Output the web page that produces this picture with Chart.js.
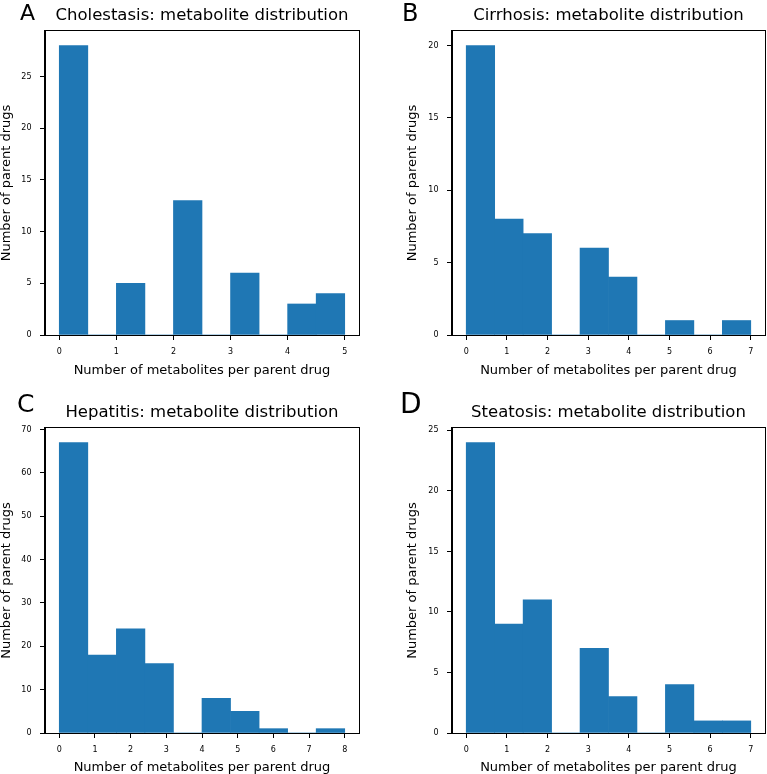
<!DOCTYPE html>
<html>
<head>
<meta charset="utf-8">
<script src="https://cdn.jsdelivr.net/npm/chart.js@4.4.0/dist/chart.umd.min.js"></script>
<style>
    body { margin: 0; background: #fff; }
    #grid { position: relative; width: 767px; height: 774px; }
    #grid canvas { position: absolute; }
</style>
</head>
<body>
<div id="grid">
    <canvas id="panelA" width="383" height="387" style="left:0;top:0"></canvas>
    <canvas id="panelB" width="384" height="387" style="left:383px;top:0"></canvas>
    <canvas id="panelC" width="383" height="387" style="left:0;top:387px"></canvas>
    <canvas id="panelD" width="384" height="387" style="left:383px;top:387px"></canvas>
</div>
<script>
// Histogram bins (edges) and counts
const cholestasisEdges = [0, 0.5, 1, 1.5, 2, 2.5, 3, 3.5, 4, 4.5, 5];
const cholestasisCounts = [28, 0, 5, 0, 13, 0, 6, 0, 3, 4];

const cirrhosisEdges = [0, 0.7, 1.4, 2.1, 2.8, 3.5, 4.2, 4.9, 5.6, 6.3, 7];
const cirrhosisCounts = [20, 8, 7, 0, 6, 4, 0, 1, 0, 1];

const hepatitisEdges = [0, 0.8, 1.6, 2.4, 3.2, 4, 4.8, 5.6, 6.4, 7.2, 8];
const hepatitisCounts = [67, 18, 24, 16, 0, 8, 5, 1, 0, 1];

const steatosisEdges = [0, 0.7, 1.4, 2.1, 2.8, 3.5, 4.2, 4.9, 5.6, 6.3, 7];
const steatosisCounts = [24, 9, 11, 0, 7, 3, 0, 4, 1, 1];

// Tick labels
const xTicksA = [0, 1, 2, 3, 4, 5];
const yTicksA = [0, 5, 10, 15, 20, 25];
const xTicksB = [0, 1, 2, 3, 4, 5, 6, 7];
const yTicksB = [0, 5, 10, 15, 20];
const xTicksC = [0, 1, 2, 3, 4, 5, 6, 7, 8];
const yTicksC = [0, 10, 20, 30, 40, 50, 60, 70];
const xTicksD = [0, 1, 2, 3, 4, 5, 6, 7];
const yTicksD = [0, 5, 10, 15, 20, 25];

const titles = [
    'Cholestasis: metabolite distribution',
    'Cirrhosis: metabolite distribution',
    'Hepatitis: metabolite distribution',
    'Steatosis: metabolite distribution'
];
const xLabel = 'Number of metabolites per parent drug';
const yLabel = 'Number of parent drugs';

const FONT = '"DejaVu Sans", sans-serif';
const BAR_COLOR = '#1f77b4';

// Frame, panel title and panel letter
const panelDecor = {
    id: 'panelDecor',
    afterDraw(chart, args, opts) {
        const { ctx, chartArea: a } = chart;
        ctx.save();
        ctx.strokeStyle = '#000';
        ctx.lineWidth = 1;
        ctx.strokeRect(Math.round(a.left) - 0.5, Math.round(a.top) - 0.5,
            Math.round(a.right - a.left) + 1, Math.round(a.bottom - a.top) + 1);
        ctx.fillStyle = '#000';
        ctx.textBaseline = 'alphabetic';
        ctx.textAlign = 'center';
        ctx.font = '16.5px ' + FONT;
        ctx.fillText(opts.title, (a.left + a.right) / 2, a.top - 11);
        ctx.textAlign = 'left';
        ctx.font = opts.letterSize + 'px ' + FONT;
        ctx.fillText(opts.letter, opts.letterX, opts.letterY);
        ctx.restore();
    }
};

const panels = [
    { id: 'panelA', letter: 'A', title: titles[0], edges: cholestasisEdges, counts: cholestasisCounts,
      xTicks: xTicksA, yTicks: yTicksA, area: { left: 45, top: 31, right: 359, bottom: 335 },
      padLeft: 0, xTitlePad: 10, letterSize: 22, letterX: 20, letterY: 20 },
    { id: 'panelB', letter: 'B', title: titles[1], edges: cirrhosisEdges, counts: cirrhosisCounts,
      xTicks: xTicksB, yTicks: yTicksB, area: { left: 69, top: 31, right: 382, bottom: 335 },
      padLeft: 23.5, xTitlePad: 10, letterSize: 24, letterX: 19, letterY: 20.5 },
    { id: 'panelC', letter: 'C', title: titles[2], edges: hepatitisEdges, counts: hepatitisCounts,
      xTicks: xTicksC, yTicks: yTicksC, area: { left: 45, top: 41, right: 359, bottom: 346 },
      padLeft: 0, xTitlePad: 0, letterSize: 25, letterX: 17, letterY: 25 },
    { id: 'panelD', letter: 'D', title: titles[3], edges: steatosisEdges, counts: steatosisCounts,
      xTicks: xTicksD, yTicks: yTicksD, area: { left: 69, top: 41, right: 382, bottom: 346 },
      padLeft: 23.5, xTitlePad: 0, letterSize: 28, letterX: 17, letterY: 26 }
];

panels.forEach((p) => {
    const canvas = document.getElementById(p.id);
    const W = canvas.width;
    const H = canvas.height;

    const points = p.counts.map((c, i) => ({ x: (p.edges[i] + p.edges[i + 1]) / 2, y: c }));

    // matplotlib autoscale margins (5%)
    const span = p.edges[p.edges.length - 1] - p.edges[0];
    const xMin = p.edges[0] - span * 0.05;
    const xMax = p.edges[p.edges.length - 1] + span * 0.05;
    const yMax = Math.max(...p.counts) * 1.05;

    const tickGrid = {
        drawOnChartArea: false,
        drawTicks: true,
        offset: false,
        tickLength: 5,
        tickWidth: 1,
        tickColor: '#000'
    };

    new Chart(canvas, {
        type: 'bar',
        data: {
            datasets: [
                {
                    data: points,
                    backgroundColor: BAR_COLOR,
                    borderWidth: 0,
                    barPercentage: 1,
                    categoryPercentage: 1
                }
            ]
        },
        options: {
            responsive: false,
            animation: false,
            layout: {
                padding: { left: p.padLeft, top: p.area.top, right: W - p.area.right, bottom: 0 }
            },
            plugins: {
                legend: { display: false },
                tooltip: { enabled: false },
                panelDecor: {
                    title: p.title,
                    letter: p.letter,
                    letterSize: p.letterSize,
                    letterX: p.letterX,
                    letterY: p.letterY
                }
            },
            scales: {
                x: {
                    type: 'linear',
                    offset: false,
                    min: xMin,
                    max: xMax,
                    afterBuildTicks: (s) => { s.ticks = p.xTicks.map((v) => ({ value: v })); },
                    afterFit: (s) => { s.height = H - p.area.bottom; },
                    grid: tickGrid,
                    border: { display: true, color: '#000', width: 1 },
                    ticks: { font: { family: FONT, size: 8 }, color: '#000', padding: 7.5, maxRotation: 0 },
                    title: {
                        display: true,
                        text: xLabel,
                        color: '#000',
                        font: { family: FONT, size: 13, lineHeight: 1 },
                        padding: { top: 0, bottom: p.xTitlePad }
                    }
                },
                y: {
                    min: 0,
                    max: yMax,
                    afterBuildTicks: (s) => { s.ticks = p.yTicks.map((v) => ({ value: v })); },
                    afterFit: (s) => { s.width = p.area.left - p.padLeft; },
                    grid: tickGrid,
                    border: { display: true, color: '#000', width: 1 },
                    ticks: { font: { family: FONT, size: 8 }, color: '#000', padding: 8.5 },
                    title: {
                        display: true,
                        text: yLabel,
                        color: '#000',
                        font: { family: FONT, size: 13, lineHeight: 1 },
                        padding: 0
                    }
                }
            }
        },
        plugins: [panelDecor]
    });
});
</script>
</body>
</html>
